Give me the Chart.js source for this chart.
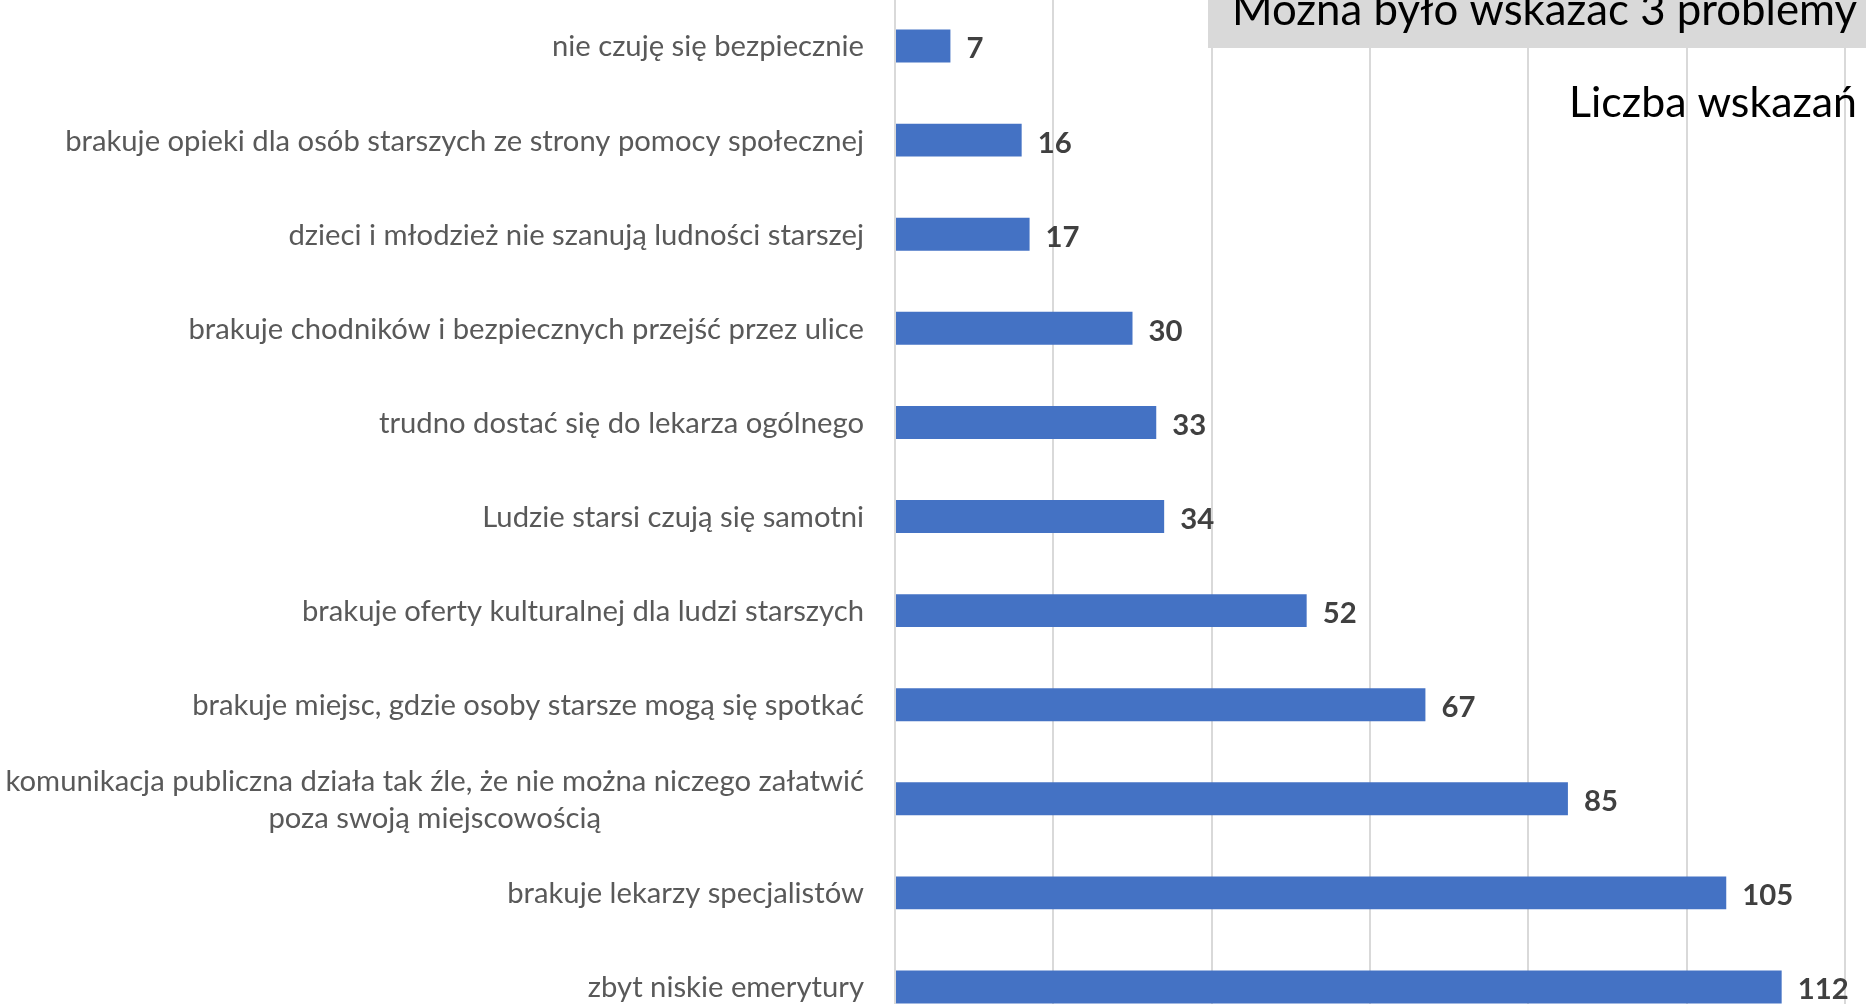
<!DOCTYPE html>
<html>
<head>
<meta charset="utf-8">
<script src="https://cdn.jsdelivr.net/npm/chart.js@4.4.1/dist/chart.umd.min.js"></script>
<style>
  html, body { margin: 0; padding: 0; width: 1866px; height: 1004px; overflow: hidden; background: #ffffff; }
  #wrap { position: absolute; left: 0; top: -50px; width: 1866px; height: 1100px; }
</style>
</head>
<body>
<div id="wrap"><canvas id="c" width="1866" height="1100"></canvas></div>
<script>
// ---- data ----
const categories = [
  'nie czuję się bezpiecznie',
  'brakuje opieki dla osób starszych ze strony pomocy społecznej',
  'dzieci i młodzież nie szanują ludności starszej',
  'brakuje chodników i bezpiecznych przejść przez ulice',
  'trudno dostać się do lekarza ogólnego',
  'Ludzie starsi czują się samotni',
  'brakuje oferty kulturalnej dla ludzi starszych',
  'brakuje miejsc, gdzie osoby starsze mogą się spotkać',
  ['komunikacja publiczna działa tak źle, że nie można niczego załatwić', 'poza swoją miejscowością'],
  'brakuje lekarzy specjalistów',
  'zbyt niskie emerytury'
];
const values = [7, 16, 17, 30, 33, 34, 52, 67, 85, 105, 112];
const xTicks = [0, 20, 40, 60, 80, 100, 120];
const titleText = 'Można było wskazać 3 problemy';
const subtitleText = 'Liczba wskazań';

// ---- styling ----
const FAMILY = 'Lato, "Open Sans", "DejaVu Sans", sans-serif';
const OFFSET = 50; // canvas is shifted up by this many px

function fitSize(text, weight, target) {
  const c = document.createElement('canvas').getContext('2d');
  c.font = weight + ' 100px ' + FAMILY;
  return 100 * target / c.measureText(text).width;
}

function build() {
  const catSize = fitSize('brakuje opieki dla osób starszych ze strony pomocy społecznej', 'normal', 799);
  const valSize = fitSize('105', 'bold', 51);
  const titleSize = fitSize(titleText, 'normal', 625);
  const subSize = fitSize(subtitleText, 'normal', 288);

  const decor = {
    id: 'decor',
    afterDatasetsDraw(chart) {
      const ctx = chart.ctx;
      const ys = chart.scales.y;
      const meta = chart.getDatasetMeta(0);
      ctx.save();
      // category labels (right-aligned block, lines centered)
      ctx.fillStyle = '#595959';
      ctx.font = 'normal ' + catSize + 'px ' + FAMILY;
      ctx.textBaseline = 'middle';
      ctx.textAlign = 'center';
      const lineH = 37;
      categories.forEach((lab, i) => {
        const lines = Array.isArray(lab) ? lab : [lab];
        const cy = ys.getPixelForValue(i);
        const maxW = Math.max(...lines.map(l => ctx.measureText(l).width));
        const cx = ys.right - 31 - maxW / 2;
        lines.forEach((l, j) => {
          ctx.fillText(l, cx, cy + (j - (lines.length - 1) / 2) * lineH + 1);
        });
      });
      // value labels
      ctx.fillStyle = '#404040';
      ctx.font = 'bold ' + valSize + 'px ' + FAMILY;
      ctx.textAlign = 'left';
      meta.data.forEach((bar, i) => {
        ctx.fillText(String(values[i]), bar.x + 16, bar.y + 3);
      });
      ctx.restore();
    },
    afterDraw(chart) {
      const ctx = chart.ctx;
      ctx.save();
      ctx.fillStyle = '#d9d9d9';
      ctx.fillRect(1208, 0, chart.width - 1208, OFFSET + 48);
      ctx.fillStyle = '#000000';
      ctx.textAlign = 'right';
      ctx.textBaseline = 'alphabetic';
      ctx.font = 'normal ' + titleSize + 'px ' + FAMILY;
      ctx.fillText(titleText, 1857, OFFSET + 25);
      ctx.font = 'normal ' + subSize + 'px ' + FAMILY;
      ctx.fillText(subtitleText, 1857, OFFSET + 117);
      ctx.restore();
    }
  };

  new Chart(document.getElementById('c'), {
    type: 'bar',
    data: {
      labels: categories,
      datasets: [{
        data: values,
        backgroundColor: '#4472C4',
        borderWidth: 0,
        categoryPercentage: 1,
        barPercentage: 0.35
      }]
    },
    options: {
      indexAxis: 'y',
      responsive: false,
      animation: false,
      devicePixelRatio: 1,
      layout: { padding: { top: OFFSET - 1, bottom: 16, left: 0, right: 21 } },
      plugins: { legend: { display: false }, tooltip: { enabled: false }, title: { display: false } },
      scales: {
        x: {
          min: 0,
          max: xTicks[xTicks.length - 1],
          afterBuildTicks(s) { s.ticks = xTicks.map(v => ({ value: v })); },
          ticks: { display: false },
          grid: { color: '#d9d9d9', lineWidth: 2, drawTicks: false },
          border: { display: false },
          afterFit(s) { s.height = 0; }
        },
        y: {
          ticks: { display: false },
          grid: { display: false, drawTicks: false },
          border: { display: true, color: '#d9d9d9', width: 2 },
          afterFit(s) { s.width = 895; }
        }
      }
    },
    plugins: [decor]
  });
}

if (document.fonts && document.fonts.load) {
  Promise.all([
    document.fonts.load('20px Lato'),
    document.fonts.load('bold 20px Lato')
  ]).then(build, build);
} else {
  build();
}
</script>
</body>
</html>
